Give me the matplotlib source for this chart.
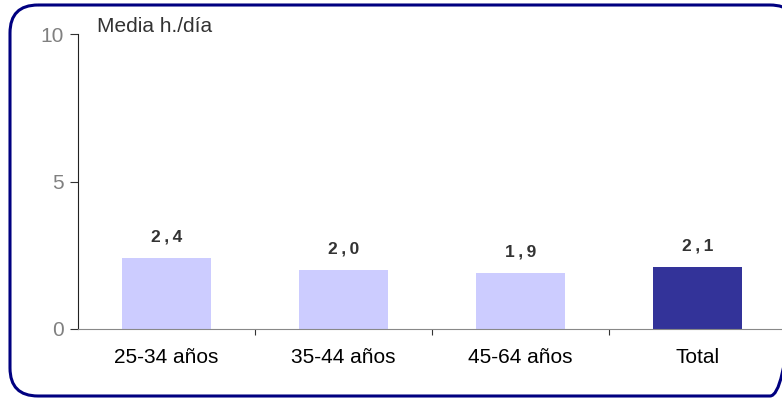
import matplotlib.pyplot as plt
from matplotlib.patches import FancyBboxPatch

categories = ["25-34 años", "35-44 años", "45-64 años", "Total"]
values = [2.4, 2.0, 1.9, 2.1]
value_labels = ["2\u2009,\u20094", "2\u2009,\u20090", "1\u2009,\u20099", "2\u2009,\u20091"]
bar_colors = ["#ccccff", "#ccccff", "#ccccff", "#333399"]
y_ticks = [0, 5, 10]

plt.rcParams["font.family"] = ["Liberation Sans", "DejaVu Sans"]

W, H = 782, 399
fig = plt.figure(figsize=(W / 100, H / 100), dpi=100)

# background axes in pixel units, used only for the rounded frame
bg = fig.add_axes([0, 0, 1, 1], zorder=-1)
bg.set_xlim(0, W)
bg.set_ylim(H, 0)
bg.axis("off")
bg.add_patch(FancyBboxPatch(
    (10, 5), 788, 391,
    boxstyle="round,pad=0,rounding_size=28",
    facecolor="none", edgecolor="#000080", linewidth=2.2,
))

ax = fig.add_axes([78 / W, (H - 329) / H, (786 - 78) / W, (329 - 34) / H])
x = range(len(categories))
ax.bar(x, values, width=0.5, color=bar_colors, zorder=2)

for xi, v, lab in zip(x, values, value_labels):
    ax.annotate(lab, (xi, v), xytext=(0, 10), textcoords="offset points",
                ha="center", va="bottom", fontsize=12.5, fontweight="bold",
                color="#333333")

ax.set_xlim(-0.5, 3.5)
ax.set_ylim(0, 10)
ax.set_yticks(y_ticks)
ax.set_yticklabels([str(t) for t in y_ticks], color="#808080", fontsize=15)
ax.set_xticks([0.5, 1.5, 2.5])
ax.set_xticklabels([])
ax.set_xticks(list(x), minor=True)
ax.set_xticklabels(categories, minor=True, fontsize=15)
ax.tick_params(axis="x", which="minor", length=0, pad=14)
ax.tick_params(axis="x", which="major", length=4, color="#333333")
ax.tick_params(axis="y", length=6, color="#333333", pad=4)

for s in ["top", "right"]:
    ax.spines[s].set_visible(False)
ax.spines["left"].set_color("#222222")
ax.spines["bottom"].set_color("#888888")
ax.spines["bottom"].set_zorder(3)

fig.text(97 / W, 1 - 26 / H, "Media h./día", fontsize=15, color="#333333",
         va="center", ha="left")

fig.savefig("out.png", dpi=100)
